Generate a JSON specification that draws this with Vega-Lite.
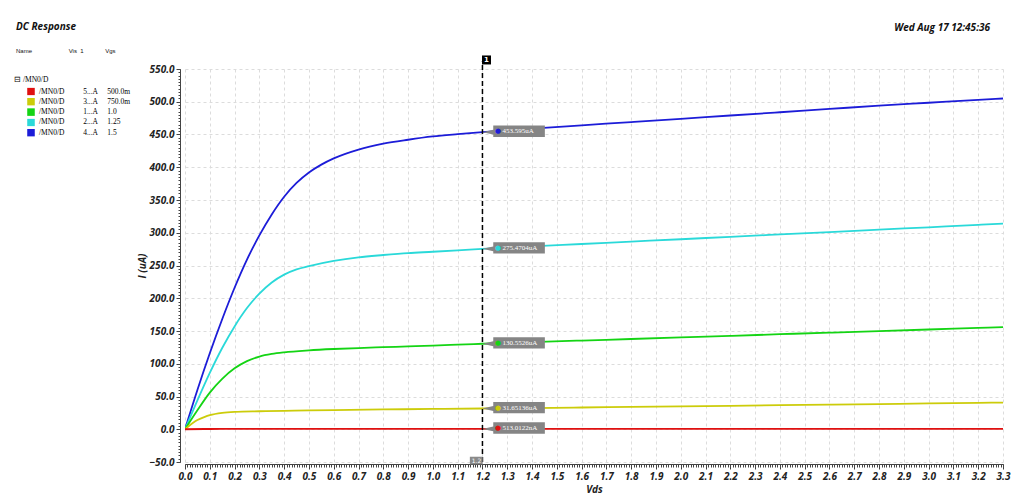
{
  "$schema": "https://vega.github.io/schema/vega-lite/v6.json",
  "width": 818,
  "height": 393,
  "autosize": {"type": "none"},
  "padding": {"left": 185, "top": 69, "right": 16, "bottom": 42},
  "background": "white",
  "config": {"view": {"stroke": null}},
  "title": {
    "text": "DC Response",
    "subtitle": "Name\u00a0\u00a0\u00a0\u00a0\u00a0\u00a0\u00a0\u00a0\u00a0\u00a0\u00a0\u00a0\u00a0\u00a0\u00a0\u00a0\u00a0\u00a0\u00a0\u00a0\u00a0\u00a0Vis\u00a0\u00a01\u00a0\u00a0\u00a0\u00a0\u00a0\u00a0\u00a0\u00a0\u00a0\u00a0\u00a0\u00a0\u00a0Vgs",
    "anchor": "start",
    "frame": "group",
    "dx": -169,
    "offset": -31,
    "font": "Open Sans",
    "fontSize": 10,
    "fontWeight": "bold",
    "fontStyle": "italic",
    "color": "#111111",
    "subtitleFont": "Liberation Sans",
    "subtitleFontSize": 6,
    "subtitleColor": "#111111",
    "subtitlePadding": 16
  },
  "datasets": {
    "curves": [
      {"Vgs": "1.5", "Vds": 0, "I": 0}, {"Vgs": "1.5", "Vds": 0.05, "I": 60}, {"Vgs": "1.5", "Vds": 0.1, "I": 116}, {"Vgs": "1.5", "Vds": 0.15, "I": 168}, {"Vgs": "1.5", "Vds": 0.2, "I": 216}, {"Vgs": "1.5", "Vds": 0.25, "I": 259}, {"Vgs": "1.5", "Vds": 0.3, "I": 296}, {"Vgs": "1.5", "Vds": 0.35, "I": 328}, {"Vgs": "1.5", "Vds": 0.4, "I": 355}, {"Vgs": "1.5", "Vds": 0.45, "I": 376}, {"Vgs": "1.5", "Vds": 0.5, "I": 392}, {"Vgs": "1.5", "Vds": 0.55, "I": 404}, {"Vgs": "1.5", "Vds": 0.6, "I": 413.5}, {"Vgs": "1.5", "Vds": 0.7, "I": 427}, {"Vgs": "1.5", "Vds": 0.8, "I": 436}, {"Vgs": "1.5", "Vds": 0.9, "I": 442}, {"Vgs": "1.5", "Vds": 1.0, "I": 447}, {"Vgs": "1.5", "Vds": 1.1, "I": 450.5}, {"Vgs": "1.5", "Vds": 1.2, "I": 453.6}, {"Vgs": "1.5", "Vds": 1.4, "I": 459}, {"Vgs": "1.5", "Vds": 1.6, "I": 464}, {"Vgs": "1.5", "Vds": 1.8, "I": 469}, {"Vgs": "1.5", "Vds": 2.0, "I": 474}, {"Vgs": "1.5", "Vds": 2.2, "I": 479}, {"Vgs": "1.5", "Vds": 2.4, "I": 484}, {"Vgs": "1.5", "Vds": 2.6, "I": 489}, {"Vgs": "1.5", "Vds": 2.8, "I": 494}, {"Vgs": "1.5", "Vds": 3.0, "I": 498.5}, {"Vgs": "1.5", "Vds": 3.2, "I": 503}, {"Vgs": "1.5", "Vds": 3.3, "I": 505},
      {"Vgs": "1.25", "Vds": 0, "I": 0}, {"Vgs": "1.25", "Vds": 0.05, "I": 44}, {"Vgs": "1.25", "Vds": 0.1, "I": 86}, {"Vgs": "1.25", "Vds": 0.15, "I": 124}, {"Vgs": "1.25", "Vds": 0.2, "I": 157}, {"Vgs": "1.25", "Vds": 0.25, "I": 185}, {"Vgs": "1.25", "Vds": 0.3, "I": 207}, {"Vgs": "1.25", "Vds": 0.35, "I": 224}, {"Vgs": "1.25", "Vds": 0.4, "I": 236}, {"Vgs": "1.25", "Vds": 0.45, "I": 244}, {"Vgs": "1.25", "Vds": 0.5, "I": 249}, {"Vgs": "1.25", "Vds": 0.6, "I": 257}, {"Vgs": "1.25", "Vds": 0.7, "I": 262.5}, {"Vgs": "1.25", "Vds": 0.8, "I": 266}, {"Vgs": "1.25", "Vds": 0.9, "I": 269}, {"Vgs": "1.25", "Vds": 1.0, "I": 271}, {"Vgs": "1.25", "Vds": 1.1, "I": 273.2}, {"Vgs": "1.25", "Vds": 1.2, "I": 275.5}, {"Vgs": "1.25", "Vds": 1.4, "I": 279.2}, {"Vgs": "1.25", "Vds": 1.6, "I": 282.8}, {"Vgs": "1.25", "Vds": 1.8, "I": 286.5}, {"Vgs": "1.25", "Vds": 2.0, "I": 290.1}, {"Vgs": "1.25", "Vds": 2.2, "I": 293.8}, {"Vgs": "1.25", "Vds": 2.4, "I": 297.4}, {"Vgs": "1.25", "Vds": 2.6, "I": 301}, {"Vgs": "1.25", "Vds": 2.8, "I": 304.7}, {"Vgs": "1.25", "Vds": 3.0, "I": 308.3}, {"Vgs": "1.25", "Vds": 3.2, "I": 312}, {"Vgs": "1.25", "Vds": 3.3, "I": 314},
      {"Vgs": "1.0", "Vds": 0, "I": 0}, {"Vgs": "1.0", "Vds": 0.05, "I": 29}, {"Vgs": "1.0", "Vds": 0.1, "I": 56}, {"Vgs": "1.0", "Vds": 0.15, "I": 77}, {"Vgs": "1.0", "Vds": 0.2, "I": 93}, {"Vgs": "1.0", "Vds": 0.25, "I": 104}, {"Vgs": "1.0", "Vds": 0.3, "I": 111}, {"Vgs": "1.0", "Vds": 0.35, "I": 115}, {"Vgs": "1.0", "Vds": 0.4, "I": 117.5}, {"Vgs": "1.0", "Vds": 0.5, "I": 120.5}, {"Vgs": "1.0", "Vds": 0.6, "I": 122.5}, {"Vgs": "1.0", "Vds": 0.7, "I": 124}, {"Vgs": "1.0", "Vds": 0.8, "I": 125.3}, {"Vgs": "1.0", "Vds": 0.9, "I": 126.5}, {"Vgs": "1.0", "Vds": 1.0, "I": 127.8}, {"Vgs": "1.0", "Vds": 1.1, "I": 129.2}, {"Vgs": "1.0", "Vds": 1.2, "I": 130.55}, {"Vgs": "1.0", "Vds": 1.4, "I": 133}, {"Vgs": "1.0", "Vds": 1.6, "I": 135.4}, {"Vgs": "1.0", "Vds": 1.8, "I": 137.8}, {"Vgs": "1.0", "Vds": 2.0, "I": 140.2}, {"Vgs": "1.0", "Vds": 2.2, "I": 142.6}, {"Vgs": "1.0", "Vds": 2.4, "I": 145.1}, {"Vgs": "1.0", "Vds": 2.6, "I": 147.5}, {"Vgs": "1.0", "Vds": 2.8, "I": 149.9}, {"Vgs": "1.0", "Vds": 3.0, "I": 152.3}, {"Vgs": "1.0", "Vds": 3.2, "I": 154.7}, {"Vgs": "1.0", "Vds": 3.3, "I": 156},
      {"Vgs": "750.0m", "Vds": 0, "I": 0}, {"Vgs": "750.0m", "Vds": 0.03, "I": 9}, {"Vgs": "750.0m", "Vds": 0.05, "I": 14}, {"Vgs": "750.0m", "Vds": 0.08, "I": 19}, {"Vgs": "750.0m", "Vds": 0.1, "I": 21.5}, {"Vgs": "750.0m", "Vds": 0.15, "I": 25}, {"Vgs": "750.0m", "Vds": 0.2, "I": 26.5}, {"Vgs": "750.0m", "Vds": 0.3, "I": 27.5}, {"Vgs": "750.0m", "Vds": 0.4, "I": 28.2}, {"Vgs": "750.0m", "Vds": 0.5, "I": 28.8}, {"Vgs": "750.0m", "Vds": 0.6, "I": 29.3}, {"Vgs": "750.0m", "Vds": 0.8, "I": 30.2}, {"Vgs": "750.0m", "Vds": 1.0, "I": 31}, {"Vgs": "750.0m", "Vds": 1.2, "I": 31.65}, {"Vgs": "750.0m", "Vds": 1.4, "I": 32.4}, {"Vgs": "750.0m", "Vds": 1.6, "I": 33.2}, {"Vgs": "750.0m", "Vds": 1.8, "I": 34.1}, {"Vgs": "750.0m", "Vds": 2.0, "I": 35}, {"Vgs": "750.0m", "Vds": 2.2, "I": 35.8}, {"Vgs": "750.0m", "Vds": 2.4, "I": 36.7}, {"Vgs": "750.0m", "Vds": 2.6, "I": 37.6}, {"Vgs": "750.0m", "Vds": 2.8, "I": 38.5}, {"Vgs": "750.0m", "Vds": 3.0, "I": 39.4}, {"Vgs": "750.0m", "Vds": 3.2, "I": 40.4}, {"Vgs": "750.0m", "Vds": 3.3, "I": 40.8},
      {"Vgs": "500.0m", "Vds": 0, "I": 0}, {"Vgs": "500.0m", "Vds": 0.1, "I": 0.4}, {"Vgs": "500.0m", "Vds": 0.2, "I": 0.45}, {"Vgs": "500.0m", "Vds": 0.5, "I": 0.48}, {"Vgs": "500.0m", "Vds": 1.2, "I": 0.513}, {"Vgs": "500.0m", "Vds": 2.0, "I": 0.55}, {"Vgs": "500.0m", "Vds": 3.3, "I": 0.6}
    ],
    "markers": [
      {"Vgs": "1.5", "Vds": 1.2, "I": 453.6, "label": "453.595uA"},
      {"Vgs": "1.25", "Vds": 1.2, "I": 275.47, "label": "275.4704uA"},
      {"Vgs": "1.0", "Vds": 1.2, "I": 130.55, "label": "130.5526uA"},
      {"Vgs": "750.0m", "Vds": 1.2, "I": 31.65, "label": "31.65136uA"},
      {"Vgs": "500.0m", "Vds": 1.2, "I": 0.513, "label": "513.0122nA"}
    ],
    "flag": [{"Vds": 1.2, "flag": "1", "tag": "1.2"}],
    "stamp": [{"t": "Wed Aug 17 12:45:36"}]
  },
  "resolve": {"axis": {"x": "independent", "y": "independent"}},
  "layer": [
    {
      "data": {"name": "curves"},
      "mark": {"type": "line", "interpolate": "monotone", "strokeWidth": 1.8, "clip": true},
      "encoding": {
        "x": {
          "field": "Vds", "type": "quantitative",
          "scale": {"domain": [0, 3.3], "nice": false, "zero": false},
          "axis": {
            "orient": "bottom",
            "values": [0, 0.1, 0.2, 0.3, 0.4, 0.5, 0.6, 0.7, 0.8, 0.9, 1.0, 1.1, 1.2, 1.3, 1.4, 1.5, 1.6, 1.7, 1.8, 1.9, 2.0, 2.1, 2.2, 2.3, 2.4, 2.5, 2.6, 2.7, 2.8, 2.9, 3.0, 3.1, 3.2, 3.3],
            "format": ".1f",
            "grid": true, "gridColor": "#dcdcdc", "gridDash": [3, 3],
            "tickSize": 5, "tickColor": "#444444", "domainColor": "#444444", "offset": 2,
            "labelFont": "Open Sans", "labelFontSize": 10, "labelFontWeight": "bold", "labelFontStyle": "italic", "labelColor": "#222222",
            "labelPadding": 2, "labelOverlap": false, "labelFlush": false, "labelBound": false,
            "title": "Vds", "titleFont": "Open Sans", "titleFontSize": 10, "titleFontWeight": "bold", "titleFontStyle": "italic", "titleColor": "#222222", "titlePadding": 3
          }
        },
        "y": {
          "field": "I", "type": "quantitative",
          "scale": {"domain": [-50, 550], "nice": false, "zero": false},
          "axis": {
            "orient": "left",
            "values": [-50, 0, 50, 100, 150, 200, 250, 300, 350, 400, 450, 500, 550],
            "format": ".1f",
            "grid": true, "gridColor": "#dcdcdc", "gridDash": [3, 3],
            "tickSize": 4, "tickColor": "#444444", "domainColor": "#444444", "offset": 5,
            "labelFont": "Open Sans", "labelFontSize": 10, "labelFontWeight": "bold", "labelFontStyle": "italic", "labelColor": "#222222",
            "labelPadding": 2, "labelOverlap": false, "labelFlush": false, "labelBound": false,
            "title": "I (uA)", "titleFont": "Open Sans", "titleFontSize": 10, "titleFontWeight": "bold", "titleFontStyle": "italic", "titleColor": "#222222", "titlePadding": 2
          }
        },
        "color": {
          "field": "Vgs", "type": "nominal",
          "scale": {"domain": ["500.0m", "750.0m", "1.0", "1.25", "1.5"], "range": ["#e01010", "#cccc0a", "#14d414", "#2ad9d9", "#1c1cd8"]},
          "legend": {
            "orient": "none", "legendX": -171, "legendY": 7,
            "title": "⊟ /MN0/D", "titleFont": "Liberation Serif", "titleFontSize": 7.5, "titleFontWeight": "normal", "titleColor": "#000000", "titlePadding": 4,
            "symbolType": "square", "symbolSize": 14, "symbolStrokeWidth": 3.8, "symbolOffset": 13, "symbolOpacity": 1,
            "labelFont": "Liberation Serif", "labelFontSize": 7.5, "labelColor": "#000000", "labelOffset": 4, "labelLimit": 200,
            "clipHeight": 8,
            "rowPadding": 2.3,
            "labelExpr": "'/MN0/D\u00a0\u00a0\u00a0\u00a0\u00a0\u00a0\u00a0\u00a0\u00a0\u00a0' + (datum.label == '500.0m' ? '5' : datum.label == '750.0m' ? '3' : datum.label == '1.0' ? '1' : datum.label == '1.25' ? '2' : '4') + '...A\u00a0\u00a0\u00a0\u00a0\u00a0' + datum.label"
          }
        }
      }
    },
    {
      "data": {"name": "curves"},
      "mark": {"type": "point", "opacity": 0},
      "encoding": {
        "x": {"field": "Vds", "type": "quantitative", "axis": {"orient": "bottom", "tickCount": 330, "labels": false, "grid": false, "domain": false, "tickSize": 3, "tickColor": "#444444", "offset": 2, "title": null}},
        "y": {"field": "I", "type": "quantitative", "axis": {"orient": "left", "tickCount": 120, "labels": false, "grid": false, "domain": false, "tickSize": 2, "tickColor": "#444444", "offset": 5, "title": null}}
      }
    },
    {
      "data": {"name": "flag"},
      "mark": {"type": "rule", "strokeDash": [5, 3], "strokeWidth": 1.5, "color": "#000000", "clip": false},
      "encoding": {
        "x": {"field": "Vds", "type": "quantitative", "axis": null},
        "y": {"datum": -50, "axis": null},
        "y2": {"datum": 562}
      }
    },
    {
      "data": {"name": "flag"},
      "mark": {"type": "point", "shape": "M-0.1,-1H1.9V1H-0.1Z", "size": 81, "filled": true, "fill": "#000000", "opacity": 1, "strokeWidth": 0},
      "encoding": {
        "x": {"field": "Vds", "type": "quantitative", "axis": null},
        "y": {"datum": 563.8, "axis": null}
      }
    },
    {
      "data": {"name": "flag"},
      "mark": {"type": "text", "dx": 4, "align": "center", "baseline": "middle", "fontSize": 7, "fontWeight": "bold", "font": "DejaVu Sans", "color": "#ffffff"},
      "encoding": {
        "x": {"field": "Vds", "type": "quantitative", "axis": null},
        "y": {"datum": 563.8, "axis": null},
        "text": {"field": "flag"}
      }
    },
    {
      "data": {"name": "flag"},
      "mark": {"type": "point", "shape": "M-2.8,-0.85H0.05V0.85H-2.8Z", "size": 81, "filled": true, "fill": "#8a8a8a", "opacity": 1, "strokeWidth": 0},
      "encoding": {
        "x": {"field": "Vds", "type": "quantitative", "axis": null},
        "y": {"datum": -47.8, "axis": null}
      }
    },
    {
      "data": {"name": "flag"},
      "mark": {"type": "text", "dx": -6, "align": "center", "baseline": "middle", "fontSize": 6, "font": "DejaVu Sans", "color": "#ffffff"},
      "encoding": {
        "x": {"field": "Vds", "type": "quantitative", "axis": null},
        "y": {"datum": -47.8, "axis": null},
        "text": {"field": "tag"}
      }
    },
    {
      "data": {"name": "markers"},
      "mark": {"type": "point", "shape": "M0,0L1.8,-0.4L1.8,-1.1L10.4,-1.1L10.4,0.8L1.8,0.8L1.8,0.4Z", "size": 144, "filled": true, "fill": "#858585", "opacity": 1, "strokeWidth": 0},
      "encoding": {
        "x": {"field": "Vds", "type": "quantitative", "axis": null},
        "y": {"field": "I", "type": "quantitative", "axis": null}
      }
    },
    {
      "data": {"name": "markers"},
      "mark": {"type": "text", "text": "●", "dx": 15.7, "dy": -1, "align": "center", "baseline": "middle", "fontSize": 7, "font": "DejaVu Sans"},
      "encoding": {
        "x": {"field": "Vds", "type": "quantitative", "axis": null},
        "y": {"field": "I", "type": "quantitative", "axis": null},
        "color": {"field": "Vgs", "type": "nominal", "legend": null}
      }
    },
    {
      "data": {"name": "markers"},
      "mark": {"type": "text", "dx": 20, "dy": -1, "align": "left", "baseline": "middle", "fontSize": 7, "font": "Liberation Serif", "color": "#ffffff"},
      "encoding": {
        "x": {"field": "Vds", "type": "quantitative", "axis": null},
        "y": {"field": "I", "type": "quantitative", "axis": null},
        "text": {"field": "label"}
      }
    },
    {
      "data": {"name": "stamp"},
      "mark": {"type": "text", "dx": -13, "align": "right", "baseline": "middle", "fontSize": 10, "font": "Open Sans", "fontWeight": "bold", "fontStyle": "italic", "color": "#111111"},
      "encoding": {
        "x": {"datum": 3.3, "axis": null},
        "y": {"datum": 612.6, "axis": null},
        "text": {"field": "t"}
      }
    }
  ]
}
